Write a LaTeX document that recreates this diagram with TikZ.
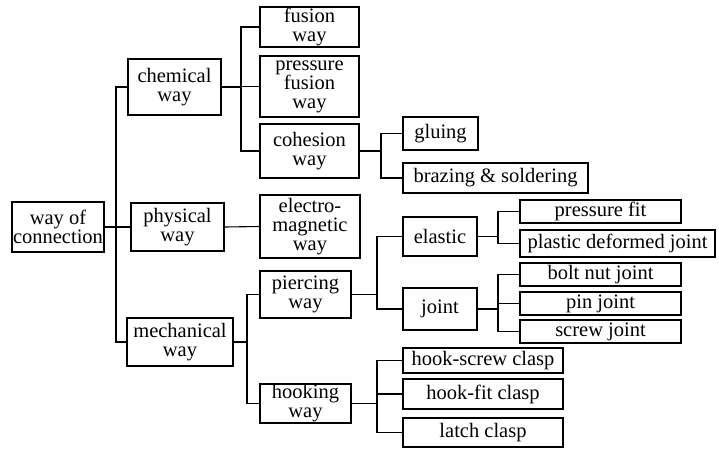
\documentclass[tikz,border=0pt]{standalone}
\usepackage{fontspec}
\setmainfont{Liberation Serif}
\begin{document}
\begin{tikzpicture}[x=1pt,y=-1pt,
  box/.style={draw, line width=1.1pt, inner sep=0pt, align=center,
    font=\fontsize{20.5}{19}\selectfont},
  link/.style={line width=1.1pt}]
\useasboundingbox (0,0) rectangle (719,448);
% level 0/1
\node[box, minimum width=92pt, minimum height=50pt] (root) at (58,227) {way of\\connection};
\node[box, minimum width=93pt, minimum height=56pt] (chem) at (174.5,87) {chemical\\way};
\node[box, minimum width=93pt, minimum height=48pt] (phys) at (177.5,227) {physical\\way};
\node[box, minimum width=106pt, minimum height=48pt] (mech) at (180,342) {mechanical\\way};
% level 2
\node[box, minimum width=99pt, minimum height=40pt] (fusion) at (309.5,27) {fusion\\way};
\node[box, minimum width=99pt, minimum height=61pt] (pfusion) at (309.5,86.5) {pressure\\fusion\\way};
\node[box, minimum width=99pt, minimum height=54pt] (cohesion) at (309.5,151) {cohesion\\way};
\node[box, minimum width=100pt, minimum height=63pt] (electro) at (310,226.5) {electro-\\magnetic\\way};
\node[box, minimum width=91pt, minimum height=47pt] (pierce) at (305.5,294.5) {piercing\\way};
\node[box, minimum width=91pt, minimum height=39pt] (hook) at (305.5,403.5) {hooking\\way};
% level 3
\node[box, minimum width=75pt, minimum height=33pt] (gluing) at (440.5,133.5) {gluing};
\node[box, minimum width=185pt, minimum height=30pt] (brazing) at (495.5,178) {brazing \& soldering};
\node[box, minimum width=74pt, minimum height=39pt] (elastic) at (440,236.5) {elastic};
\node[box, minimum width=74pt, minimum height=42pt] (joint) at (440,309) {joint};
\node[box, minimum width=160pt, minimum height=25pt] (hscrew) at (483,360.5) {hook-screw clasp};
\node[box, minimum width=160pt, minimum height=30pt] (hfit) at (483,394) {hook-fit clasp};
\node[box, minimum width=160pt, minimum height=29pt] (latch) at (483,432.5) {latch clasp};
% level 4
\node[box, minimum width=161pt, minimum height=23pt] (pfit) at (600.5,211.5) {pressure fit};
\node[box, minimum width=195pt, minimum height=27pt] (plastic) at (617.5,243.5) {plastic deformed joint};
\node[box, minimum width=161pt, minimum height=23pt] (bolt) at (600.5,274.5) {bolt nut joint};
\node[box, minimum width=161pt, minimum height=23pt] (pin) at (600.5,303.5) {pin joint};
\node[box, minimum width=161pt, minimum height=23pt] (screw) at (600.5,331.5) {screw joint};
% bus coordinates
\coordinate (b1) at (116,0);
\coordinate (b2) at (241,0);
\coordinate (b3) at (247,0);
\coordinate (b4) at (381,0);
\coordinate (b5) at (377,0);
\coordinate (b6) at (498,0);
% root
\draw[link] (root.east) -- (phys.west);
\draw[link] (chem.west) -- (chem.west -| b1) |- (mech.west);
% chemical
\draw[link] (chem.east) -- (chem.east -| b2);
\draw[link] (fusion.west) -- (fusion.west -| b2) |- (cohesion.west);
\draw[link] (pfusion.west) -- (pfusion.west -| b2);
% physical
\draw[link] (phys.east) -- (electro.west);
% mechanical
\draw[link] (mech.east) -- (mech.east -| b3);
\draw[link] (pierce.west) -- (pierce.west -| b3) |- (hook.west);
% cohesion
\draw[link] (cohesion.east) -- (cohesion.east -| b4);
\draw[link] (gluing.west) -- (gluing.west -| b4) |- (brazing.west);
% piercing
\draw[link] (pierce.east) -- (pierce.east -| b5);
\draw[link] (elastic.west) -- (elastic.west -| b5) |- (joint.west);
% elastic
\draw[link] (elastic.east) -- (elastic.east -| b6);
\draw[link] (pfit.west) -- (pfit.west -| b6) |- (plastic.west);
% joint
\draw[link] (joint.east) -- (joint.east -| b6);
\draw[link] (bolt.west) -- (bolt.west -| b6) |- (screw.west);
\draw[link] (pin.west) -- (pin.west -| b6);
% hooking
\draw[link] (hook.east) -- (hook.east -| b5);
\draw[link] (hscrew.west) -- (hscrew.west -| b5) |- (latch.west);
\draw[link] (hfit.west) -- (hfit.west -| b5);
\end{tikzpicture}
\end{document}
